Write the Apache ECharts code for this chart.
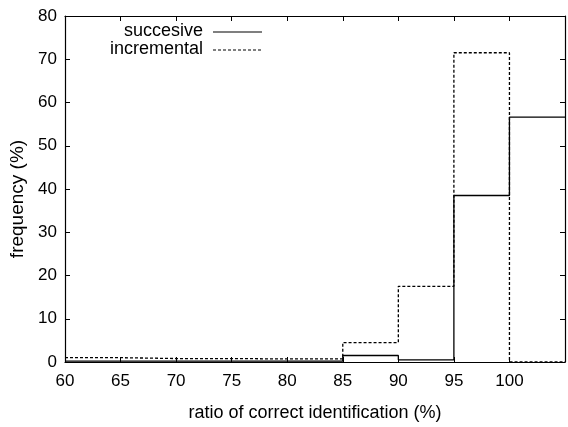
<!DOCTYPE html>
<html>
<head>
<meta charset="utf-8">
<script src="https://cdn.jsdelivr.net/npm/echarts@6/dist/echarts.min.js"></script>
<style>html,body{margin:0;padding:0;background:#fff}#c{width:568px;height:427px}</style>
</head>
<body>
<div id="c"></div>
<script>
// bin left edges (ratio of correct identification, %)
var binStarts = [60, 65, 70, 75, 80, 85, 90, 95, 100];
var binEnd = 105;
// frequency (%) per bin
var successive = [0.2, 0.2, 0.2, 0.2, 0.2, 1.5, 0.5, 38.5, 56.6];
var incremental = [1.0, 0.8, 0.8, 0.7, 0.7, 4.5, 17.5, 71.5, 0];
var xTicks = [60, 65, 70, 75, 80, 85, 90, 95, 100];
var yTicks = [0, 10, 20, 30, 40, 50, 60, 70, 80];
var seriesNames = ['succesive', 'incremental'];

function stepData(vals) {
  var d = binStarts.map(function (x, i) { return [x, vals[i]]; });
  d.push([binEnd, vals[vals.length - 1]]);
  return d;
}

var font = 'Liberation Sans';
var chart = echarts.init(document.getElementById('c'));
var axisCommon = {
  axisLine: { show: true, onZero: false, lineStyle: { color: '#000', width: 1.2 } },
  axisTick: { show: true, inside: true, length: 5, lineStyle: { color: '#000' } },
  splitLine: { show: false }
};
var dashes = [3, 2];
function legendItem(name, y, dash) {
  return [
    { type: 'text', right: 568 - 203, top: y - 10,
      style: { text: name, font: '18px ' + font, fill: '#000' } },
    { type: 'line', shape: { x1: 213, y1: y, x2: 262, y2: y },
      style: { stroke: '#000', lineWidth: 1.2, lineDash: dash } }
  ];
}
chart.setOption({
  animation: false,
  backgroundColor: '#fff',
  grid: { left: 65, right: 3, top: 16, bottom: 65 },
  graphic: legendItem(seriesNames[0], 32, null).concat(legendItem(seriesNames[1], 50, dashes)),
  xAxis: [
    Object.assign({
      type: 'value', min: 60, max: 105, interval: 5, position: 'bottom',
      name: 'ratio of correct identification (%)', nameLocation: 'middle', nameGap: 42,
      nameTextStyle: { fontFamily: font, fontSize: 18, color: '#000' },
      axisLabel: { fontFamily: font, fontSize: 17, color: '#000', margin: 11,
        formatter: function (v) { return xTicks.indexOf(v) >= 0 ? String(v) : ''; } }
    }, axisCommon),
    Object.assign({
      type: 'value', min: 60, max: 105, interval: 5, position: 'top',
      axisLabel: { show: false }
    }, axisCommon)
  ],
  yAxis: [
    Object.assign({
      type: 'value', min: 0, max: 80, interval: 10, position: 'left',
      name: 'frequency (%)', nameLocation: 'middle', nameGap: 37,
      nameTextStyle: { fontFamily: font, fontSize: 19, color: '#000', padding: [0, 20, 0, 0] },
      axisLabel: { fontFamily: font, fontSize: 17, color: '#000', margin: 8,
        formatter: function (v) { return yTicks.indexOf(v) >= 0 ? String(v) : ''; } }
    }, axisCommon),
    Object.assign({
      type: 'value', min: 0, max: 80, interval: 10, position: 'right',
      axisLabel: { show: false }
    }, axisCommon)
  ],
  series: [
    { name: seriesNames[0], type: 'line', step: 'end', symbol: 'none',
      data: stepData(successive), lineStyle: { color: '#000', width: 1.3, type: 'solid' } },
    { name: seriesNames[1], type: 'line', step: 'end', symbol: 'none',
      data: stepData(incremental), lineStyle: { color: '#000', width: 1.3, type: dashes } }
  ]
});
</script>
</body>
</html>
